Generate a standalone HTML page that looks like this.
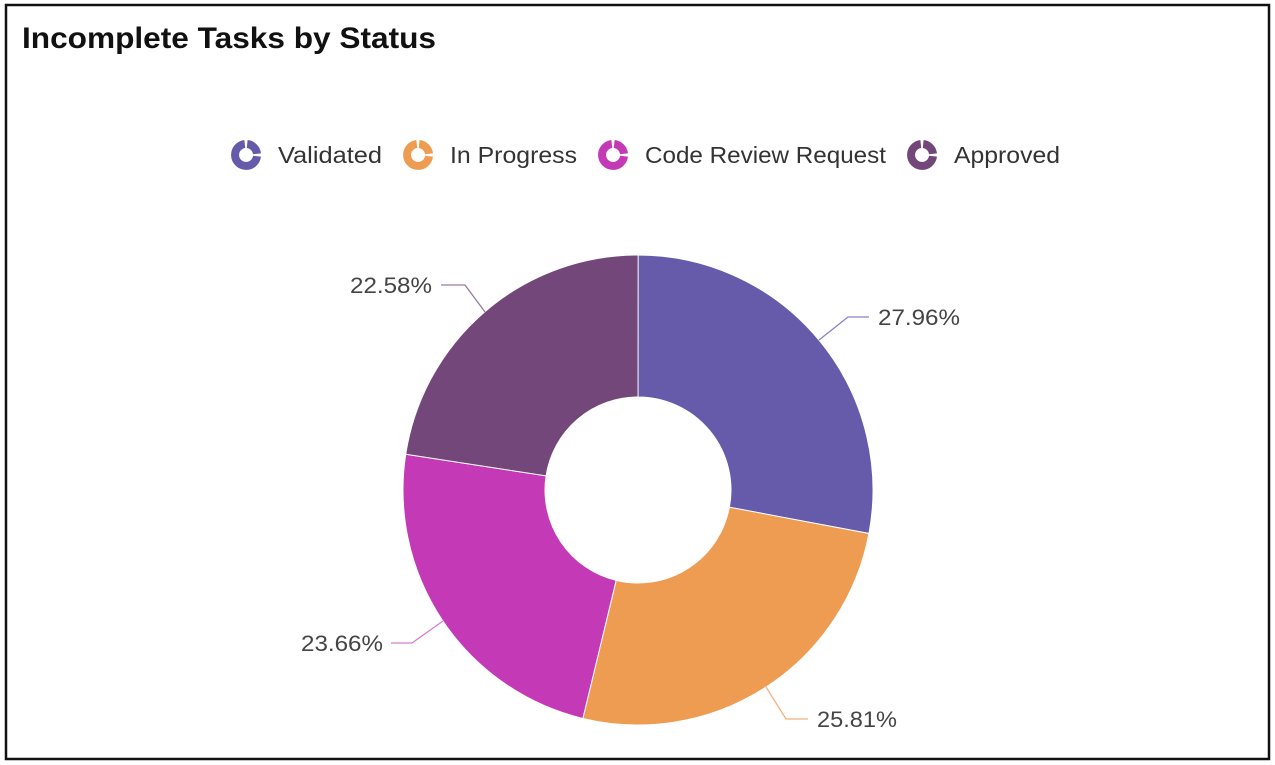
<!DOCTYPE html>
<html><head><style>
body{margin:0;background:#fff;}
svg{display:block;font-family:"Liberation Sans",Arial,sans-serif;}
</style></head><body>
<svg width="1275" height="765" viewBox="0 0 1275 765" xmlns="http://www.w3.org/2000/svg">
<rect x="0" y="0" width="1275" height="765" fill="#fff"/>
<rect x="6" y="5" width="1263" height="754" fill="none" stroke="#111" stroke-width="2.5"/>
<text x="22" y="48" font-size="30" font-weight="bold" fill="#111" textLength="414" lengthAdjust="spacingAndGlyphs">Incomplete Tasks by Status</text>
<g id="legend" font-size="23.5" fill="#333">
<g stroke-width="8" fill="none">
<g transform="translate(246,155)"><path d="M1.2,-11 A11,11 0 0 1 11,-1.2" stroke="#655BAA"/><path d="M11,1.2 A11,11 0 1 1 -1.2,-11" stroke="#655BAA"/></g>
<g transform="translate(418,155)"><path d="M1.2,-11 A11,11 0 0 1 11,-1.2" stroke="#EE9C52"/><path d="M11,1.2 A11,11 0 1 1 -1.2,-11" stroke="#EE9C52"/></g>
<g transform="translate(613,155)"><path d="M1.2,-11 A11,11 0 0 1 11,-1.2" stroke="#C439B5"/><path d="M11,1.2 A11,11 0 1 1 -1.2,-11" stroke="#C439B5"/></g>
<g transform="translate(922,155)"><path d="M1.2,-11 A11,11 0 0 1 11,-1.2" stroke="#73477A"/><path d="M11,1.2 A11,11 0 1 1 -1.2,-11" stroke="#73477A"/></g>
</g>
<text x="278" y="163" textLength="104" lengthAdjust="spacingAndGlyphs">Validated</text>
<text x="450" y="163" textLength="127" lengthAdjust="spacingAndGlyphs">In Progress</text>
<text x="645" y="163" textLength="241" lengthAdjust="spacingAndGlyphs">Code Review Request</text>
<text x="954" y="163" textLength="106" lengthAdjust="spacingAndGlyphs">Approved</text>
</g>
<g id="pie"></g>
<g stroke-width="1.3" fill="none">
<polyline points="819,340 848,317 869,317" stroke="#8a82c4"/>
<polyline points="766,687 786,719 808,719" stroke="#f0b47e"/>
<polyline points="443,621 412,643 391,643" stroke="#d77fcd"/>
<polyline points="485,312 465,285 441,285" stroke="#9a7a9f"/>
</g>
<g font-size="22.5" fill="#444">
<text x="878" y="325" textLength="82" lengthAdjust="spacingAndGlyphs">27.96%</text>
<text x="817" y="727" textLength="80" lengthAdjust="spacingAndGlyphs">25.81%</text>
<text x="301" y="651" textLength="82" lengthAdjust="spacingAndGlyphs">23.66%</text>
<text x="350" y="293" textLength="82" lengthAdjust="spacingAndGlyphs">22.58%</text>
</g>
<script>
(function(){
var cx=638,cy=490,R=235,r=93;
var d=[[27.96,"#655BAA"],[25.81,"#EE9C52"],[23.66,"#C439B5"],[22.58,"#73477A"]];
var a=0,g=document.getElementById("pie"),ns="http://www.w3.org/2000/svg";
function p(rad,ang){var t=ang*Math.PI/180;return [cx+rad*Math.sin(t),cy-rad*Math.cos(t)];}
d.forEach(function(s){
var b=a+s[0]*3.6,l=(b-a)>180?1:0;
var p1=p(R,a),p2=p(R,b),p3=p(r,b),p4=p(r,a);
var path=document.createElementNS(ns,"path");
path.setAttribute("d","M"+p1+" A"+R+","+R+" 0 "+l+" 1 "+p2+" L"+p3+" A"+r+","+r+" 0 "+l+" 0 "+p4+" Z");
path.setAttribute("fill",s[1]);path.setAttribute("stroke","#fff");path.setAttribute("stroke-width","1");
g.appendChild(path);a=b;});
})();
</script>
</svg>
</body></html>
